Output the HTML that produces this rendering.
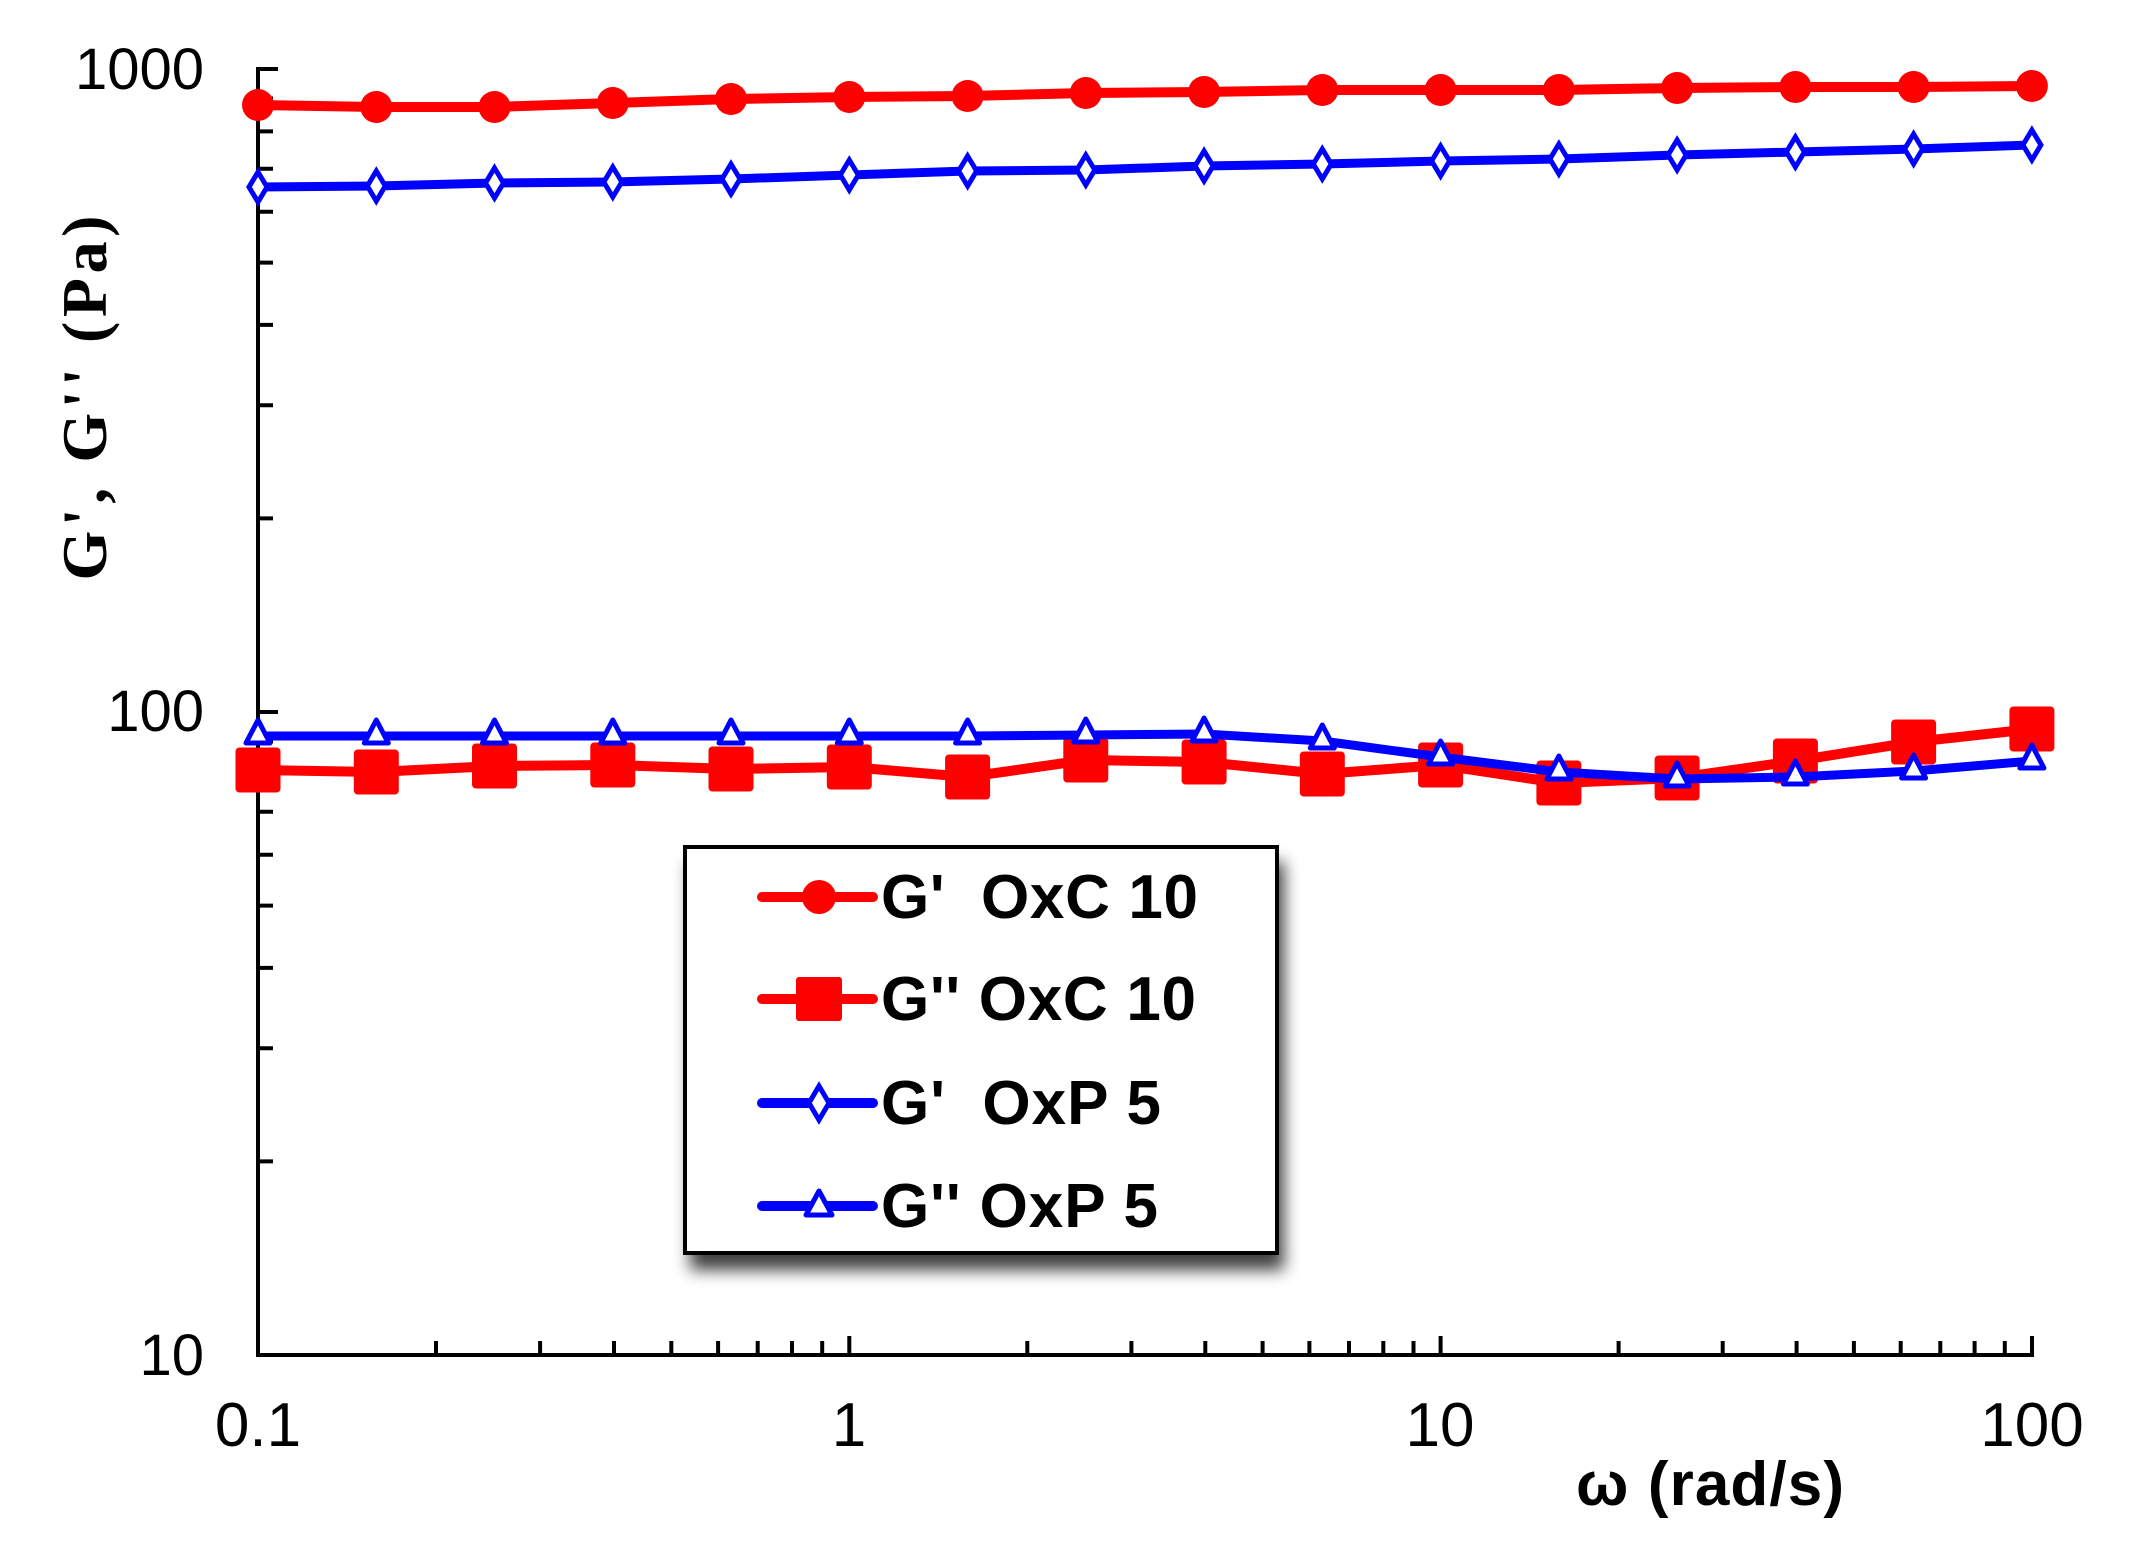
<!DOCTYPE html>
<html><head><meta charset="utf-8"><style>html,body{margin:0;padding:0;background:#fff}svg{display:block}</style></head>
<body>
<svg width="2138" height="1567" viewBox="0 0 2138 1567" xmlns="http://www.w3.org/2000/svg">
<defs>
<filter id="sh" x="-10%" y="-10%" width="130%" height="140%"><feGaussianBlur stdDeviation="8"/></filter>
</defs>
<rect width="2138" height="1567" fill="#fff"/>
<!-- axes -->
<g stroke="#000" stroke-width="4" fill="none" stroke-linecap="square">
<path d="M258 69 L258 1355 L2032 1355"/>
<!-- y major ticks -->
<path d="M258 69 H276 M258 712 H276 M258 1355 H276"/>
<!-- y minor ticks -->
<path d="M258 1161.4 H271 M258 1048.2 H271 M258 967.9 H271 M258 905.6 H271 M258 854.7 H271 M258 811.7 H271 M258 774.4 H271 M258 741.5 H271
M258 518.4 H271 M258 405.2 H271 M258 324.9 H271 M258 262.6 H271 M258 211.7 H271 M258 168.7 H271 M258 131.4 H271 M258 98.5 H271"/>
<!-- x major ticks -->
<path d="M849.3 1355 V1338 M1440.6 1355 V1338 M2032 1355 V1338"/>
<!-- x minor ticks -->
<path d="M436 1355 V1343 M540.1 1355 V1343 M614 1355 V1343 M671.3 1355 V1343 M718.1 1355 V1343 M757.7 1355 V1343 M792 1355 V1343 M822.2 1355 V1343
M1027.3 1355 V1343 M1131.4 1355 V1343 M1205.3 1355 V1343 M1262.6 1355 V1343 M1309.4 1355 V1343 M1349 1355 V1343 M1383.3 1355 V1343 M1413.5 1355 V1343
M1618.6 1355 V1343 M1722.7 1355 V1343 M1796.6 1355 V1343 M1853.9 1355 V1343 M1900.7 1355 V1343 M1940.3 1355 V1343 M1974.6 1355 V1343 M2004.8 1355 V1343"/>
</g>
<!-- tick labels -->
<g font-family="Liberation Sans, sans-serif" font-size="58" fill="#000" text-anchor="end">
<text x="204" y="89">1000</text>
<text x="204" y="731">100</text>
<text x="204" y="1375">10</text>
</g>
<g font-family="Liberation Sans, sans-serif" font-size="62" fill="#000" text-anchor="middle">
<text x="258" y="1446">0.1</text>
<text x="849" y="1446">1</text>
<text x="1440" y="1446">10</text>
<text x="2032" y="1446">100</text>
</g>
<text x="1710" y="1505" font-family="Liberation Sans, sans-serif" font-weight="bold" font-size="62" text-anchor="middle" textLength="268">ω (rad/s)</text>
<text transform="translate(106 398) rotate(-90)" font-family="Liberation Serif, serif" font-weight="bold" font-size="64" text-anchor="middle" textLength="365" xml:space="preserve">G', G'' (Pa)</text>

<!-- Red G' -->
<polyline fill="none" stroke="#f00" stroke-width="10" stroke-linejoin="round" points="258,105 376.3,107 494.5,107 612.8,103 731,99 849.3,97 967.6,96 1085.8,93 1204.1,92 1322.3,90 1440.6,90 1558.9,90 1677.1,88 1795.4,87 1913.6,87 2031.9,86"/>
<g fill="#f00">
<circle cx="258" cy="105" r="16"/><circle cx="376.3" cy="107" r="16"/><circle cx="494.5" cy="107" r="16"/><circle cx="612.8" cy="103" r="16"/><circle cx="731" cy="99" r="16"/><circle cx="849.3" cy="97" r="16"/><circle cx="967.6" cy="96" r="16"/><circle cx="1085.8" cy="93" r="16"/><circle cx="1204.1" cy="92" r="16"/><circle cx="1322.3" cy="90" r="16"/><circle cx="1440.6" cy="90" r="16"/><circle cx="1558.9" cy="90" r="16"/><circle cx="1677.1" cy="88" r="16"/><circle cx="1795.4" cy="87" r="16"/><circle cx="1913.6" cy="87" r="16"/><circle cx="2031.9" cy="86" r="16"/>
</g>
<!-- Blue G' -->
<polyline fill="none" stroke="#00f" stroke-width="9" stroke-linejoin="round" points="258,187 376.3,186 494.5,183 612.8,182 731,179 849.3,175 967.6,171 1085.8,170 1204.1,166 1322.3,164 1440.6,161 1558.9,159 1677.1,155 1795.4,152 1913.6,149 2031.9,145"/>
<g fill="#fff" stroke="#00f" stroke-width="5">
<path d="M258 172 l9 15 l-9 15 l-9 -15z"/><path d="M376.3 171 l9 15 l-9 15 l-9 -15z"/><path d="M494.5 168 l9 15 l-9 15 l-9 -15z"/><path d="M612.8 167 l9 15 l-9 15 l-9 -15z"/><path d="M731 164 l9 15 l-9 15 l-9 -15z"/><path d="M849.3 160 l9 15 l-9 15 l-9 -15z"/><path d="M967.6 156 l9 15 l-9 15 l-9 -15z"/><path d="M1085.8 155 l9 15 l-9 15 l-9 -15z"/><path d="M1204.1 151 l9 15 l-9 15 l-9 -15z"/><path d="M1322.3 149 l9 15 l-9 15 l-9 -15z"/><path d="M1440.6 146 l9 15 l-9 15 l-9 -15z"/><path d="M1558.9 144 l9 15 l-9 15 l-9 -15z"/><path d="M1677.1 140 l9 15 l-9 15 l-9 -15z"/><path d="M1795.4 137 l9 15 l-9 15 l-9 -15z"/><path d="M1913.6 134 l9 15 l-9 15 l-9 -15z"/><path d="M2031.9 130 l9 15 l-9 15 l-9 -15z"/>
</g>
<!-- Red G'' -->
<polyline fill="none" stroke="#f00" stroke-width="10" stroke-linejoin="round" points="258,770 376.3,772 494.5,766 612.8,765 731,769 849.3,767 967.6,777 1085.8,760 1204.1,762 1322.3,774 1440.6,765 1558.9,783 1677.1,778 1795.4,761 1913.6,742 2031.9,729"/>
<g fill="#f00">
<rect x="235.5" y="747.5" width="45" height="45" rx="4"/><rect x="353.8" y="749.5" width="45" height="45" rx="4"/><rect x="472" y="743.5" width="45" height="45" rx="4"/><rect x="590.3" y="742.5" width="45" height="45" rx="4"/><rect x="708.5" y="746.5" width="45" height="45" rx="4"/><rect x="826.8" y="744.5" width="45" height="45" rx="4"/><rect x="945.1" y="754.5" width="45" height="45" rx="4"/><rect x="1063.3" y="737.5" width="45" height="45" rx="4"/><rect x="1181.6" y="739.5" width="45" height="45" rx="4"/><rect x="1299.8" y="751.5" width="45" height="45" rx="4"/><rect x="1418.1" y="742.5" width="45" height="45" rx="4"/><rect x="1536.4" y="760.5" width="45" height="45" rx="4"/><rect x="1654.6" y="755.5" width="45" height="45" rx="4"/><rect x="1772.9" y="738.5" width="45" height="45" rx="4"/><rect x="1891.1" y="719.5" width="45" height="45" rx="4"/><rect x="2009.4" y="706.5" width="45" height="45" rx="4"/>
</g>
<!-- Blue G'' -->
<polyline fill="none" stroke="#00f" stroke-width="9" stroke-linejoin="round" points="258,736 376.3,736 494.5,736 612.8,736 731,736 849.3,736 967.6,736 1085.8,735 1204.1,734 1322.3,741 1440.6,757 1558.9,772 1677.1,779 1795.4,777 1913.6,771 2031.9,761"/>
<g fill="#fff" stroke="#00f" stroke-width="5" stroke-linejoin="round">
<path d="M258 720 l12 23 h-24z"/><path d="M376.3 720 l12 23 h-24z"/><path d="M494.5 720 l12 23 h-24z"/><path d="M612.8 720 l12 23 h-24z"/><path d="M731 720 l12 23 h-24z"/><path d="M849.3 720 l12 23 h-24z"/><path d="M967.6 720 l12 23 h-24z"/><path d="M1085.8 719 l12 23 h-24z"/><path d="M1204.1 718 l12 23 h-24z"/><path d="M1322.3 725 l12 23 h-24z"/><path d="M1440.6 741 l12 23 h-24z"/><path d="M1558.9 756 l12 23 h-24z"/><path d="M1677.1 763 l12 23 h-24z"/><path d="M1795.4 761 l12 23 h-24z"/><path d="M1913.6 755 l12 23 h-24z"/><path d="M2031.9 745 l12 23 h-24z"/>
</g>

<!-- Legend -->
<rect x="690" y="862" width="594" height="408" fill="#000" opacity="0.75" filter="url(#sh)"/>
<rect x="685" y="847" width="592" height="406" fill="#fff" stroke="#000" stroke-width="4"/>
<g stroke-width="10" stroke-linecap="round" fill="none">
<path d="M762 897 H873" stroke="#f00"/>
<path d="M762 999 H873" stroke="#f00"/>
<path d="M762 1103 H873" stroke="#00f"/>
<path d="M762 1206 H873" stroke="#00f"/>
</g>
<circle cx="819" cy="897" r="17" fill="#f00"/>
<rect x="796" y="977" width="46" height="44" rx="3" fill="#f00"/>
<path d="M819 1086 l10 17 l-10 17 l-10 -17z" fill="#fff" stroke="#00f" stroke-width="5"/>
<path d="M819 1191 l13 24 h-26z" fill="#fff" stroke="#00f" stroke-width="5" stroke-linejoin="round"/>
<g font-family="Liberation Sans, sans-serif" font-weight="bold" font-size="62" fill="#000">
<text x="881" y="918" textLength="317" xml:space="preserve">G'  OxC 10</text>
<text x="881" y="1020" textLength="315">G'' OxC 10</text>
<text x="881" y="1124" textLength="280" xml:space="preserve">G'  OxP 5</text>
<text x="881" y="1227" textLength="277">G'' OxP 5</text>
</g>
</svg>
</body></html>
